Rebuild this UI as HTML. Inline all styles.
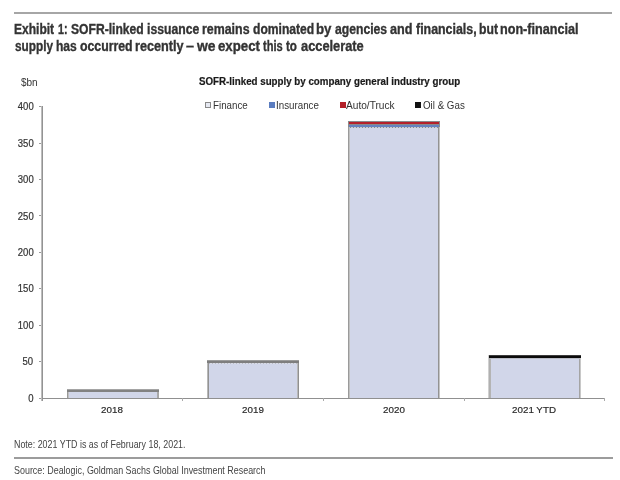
<!DOCTYPE html>
<html><head><meta charset="utf-8"><style>
*{margin:0;padding:0;box-sizing:border-box}
html,body{width:620px;height:480px;background:#fff;overflow:hidden;position:relative;font-family:"Liberation Sans",sans-serif;color:#333}
.a{position:absolute;white-space:nowrap;will-change:transform}
.sx{transform-origin:0 0;display:inline-block}
</style></head><body>
<div class="a" style="left:14.3px;top:11.8px;width:598.3px;height:2.1px;background:#a6a6a6"></div>
<div class="a tw" style="left:14.04px;top:21.2px;font-weight:bold;font-size:14px;line-height:16.8px;color:#333;-webkit-text-stroke:0.35px #333"><span class="sx" style="transform:scaleX(0.859)">Exhibit</span></div>
<div class="a tw" style="left:57.64px;top:21.2px;font-weight:bold;font-size:14px;line-height:16.8px;color:#333;-webkit-text-stroke:0.35px #333"><span class="sx" style="transform:scaleX(0.760)">1:</span></div>
<div class="a tw" style="left:71.30px;top:21.2px;font-weight:bold;font-size:14px;line-height:16.8px;color:#333;-webkit-text-stroke:0.35px #333"><span class="sx" style="transform:scaleX(0.865)">SOFR-linked</span></div>
<div class="a tw" style="left:146.73px;top:21.2px;font-weight:bold;font-size:14px;line-height:16.8px;color:#333;-webkit-text-stroke:0.35px #333"><span class="sx" style="transform:scaleX(0.871)">issuance</span></div>
<div class="a tw" style="left:202.12px;top:21.2px;font-weight:bold;font-size:14px;line-height:16.8px;color:#333;-webkit-text-stroke:0.35px #333"><span class="sx" style="transform:scaleX(0.885)">remains</span></div>
<div class="a tw" style="left:253.00px;top:21.2px;font-weight:bold;font-size:14px;line-height:16.8px;color:#333;-webkit-text-stroke:0.35px #333"><span class="sx" style="transform:scaleX(0.864)">dominated</span></div>
<div class="a tw" style="left:316.35px;top:21.2px;font-weight:bold;font-size:14px;line-height:16.8px;color:#333;-webkit-text-stroke:0.35px #333"><span class="sx" style="transform:scaleX(0.947)">by</span></div>
<div class="a tw" style="left:334.60px;top:21.2px;font-weight:bold;font-size:14px;line-height:16.8px;color:#333;-webkit-text-stroke:0.35px #333"><span class="sx" style="transform:scaleX(0.870)">agencies</span></div>
<div class="a tw" style="left:390.20px;top:21.2px;font-weight:bold;font-size:14px;line-height:16.8px;color:#333;-webkit-text-stroke:0.35px #333"><span class="sx" style="transform:scaleX(0.900)">and</span></div>
<div class="a tw" style="left:415.80px;top:21.2px;font-weight:bold;font-size:14px;line-height:16.8px;color:#333;-webkit-text-stroke:0.35px #333"><span class="sx" style="transform:scaleX(0.885)">financials,</span></div>
<div class="a tw" style="left:478.63px;top:21.2px;font-weight:bold;font-size:14px;line-height:16.8px;color:#333;-webkit-text-stroke:0.35px #333"><span class="sx" style="transform:scaleX(0.871)">but</span></div>
<div class="a tw" style="left:500.10px;top:21.2px;font-weight:bold;font-size:14px;line-height:16.8px;color:#333;-webkit-text-stroke:0.35px #333"><span class="sx" style="transform:scaleX(0.901)">non-financial</span></div>
<div class="a tw" style="left:14.50px;top:38.0px;font-weight:bold;font-size:14px;line-height:16.8px;color:#333;-webkit-text-stroke:0.35px #333"><span class="sx" style="transform:scaleX(0.842)">supply</span></div>
<div class="a tw" style="left:55.64px;top:38.0px;font-weight:bold;font-size:14px;line-height:16.8px;color:#333;-webkit-text-stroke:0.35px #333"><span class="sx" style="transform:scaleX(0.861)">has</span></div>
<div class="a tw" style="left:79.70px;top:38.0px;font-weight:bold;font-size:14px;line-height:16.8px;color:#333;-webkit-text-stroke:0.35px #333"><span class="sx" style="transform:scaleX(0.878)">occurred</span></div>
<div class="a tw" style="left:135.20px;top:38.0px;font-weight:bold;font-size:14px;line-height:16.8px;color:#333;-webkit-text-stroke:0.35px #333"><span class="sx" style="transform:scaleX(0.904)">recently</span></div>
<div class="a tw" style="left:186.00px;top:38.0px;font-weight:bold;font-size:14px;line-height:16.8px;color:#333;-webkit-text-stroke:0.35px #333"><span class="sx" style="transform:scaleX(1.025)">–</span></div>
<div class="a tw" style="left:197.00px;top:38.0px;font-weight:bold;font-size:14px;line-height:16.8px;color:#333;-webkit-text-stroke:0.35px #333"><span class="sx" style="transform:scaleX(0.989)">we</span></div>
<div class="a tw" style="left:218.40px;top:38.0px;font-weight:bold;font-size:14px;line-height:16.8px;color:#333;-webkit-text-stroke:0.35px #333"><span class="sx" style="transform:scaleX(0.945)">expect</span></div>
<div class="a tw" style="left:262.50px;top:38.0px;font-weight:bold;font-size:14px;line-height:16.8px;color:#333;-webkit-text-stroke:0.35px #333"><span class="sx" style="transform:scaleX(0.792)">this</span></div>
<div class="a tw" style="left:285.50px;top:38.0px;font-weight:bold;font-size:14px;line-height:16.8px;color:#333;-webkit-text-stroke:0.35px #333"><span class="sx" style="transform:scaleX(0.831)">to</span></div>
<div class="a tw" style="left:300.80px;top:38.0px;font-weight:bold;font-size:14px;line-height:16.8px;color:#333;-webkit-text-stroke:0.35px #333"><span class="sx" style="transform:scaleX(0.916)">accelerate</span></div>
<div class="a" style="left:20.5px;top:76.6px;font-size:10px;line-height:12px">$bn</div>
<div class="a" style="left:199px;top:75.7px;font-size:10px;font-weight:bold;line-height:12px;color:#1a1a1a;-webkit-text-stroke:0.2px #1a1a1a"><span class="sx" style="transform:scaleX(0.975)">SOFR-linked supply by company general industry group</span></div>
<div class="a" style="left:205.4px;top:102.1px;width:6.2px;height:6.4px;background:#e6e9f2;border:1px solid #888"></div>
<div class="a" style="left:213.0px;top:99.2px;font-size:10.5px;line-height:12px"><span class="sx" style="transform:scaleX(0.93)">Finance</span></div>
<div class="a" style="left:268.6px;top:102.1px;width:6.2px;height:6.4px;background:#5b7dc0;border:1px solid #5b7dc0"></div>
<div class="a" style="left:276.2px;top:99.2px;font-size:10.5px;line-height:12px"><span class="sx" style="transform:scaleX(0.93)">Insurance</span></div>
<div class="a" style="left:340.0px;top:102.1px;width:6.2px;height:6.4px;background:#b22028;border:1px solid #b22028"></div>
<div class="a" style="left:345.79999999999995px;top:99.2px;font-size:10.5px;line-height:12px"><span class="sx" style="transform:scaleX(0.965)">Auto/Truck</span></div>
<div class="a" style="left:415.40000000000003px;top:102.1px;width:6.2px;height:6.4px;background:#111;border:1px solid #111"></div>
<div class="a" style="left:422.6px;top:99.2px;font-size:10.5px;line-height:12px"><span class="sx" style="transform:scaleX(0.93)">Oil & Gas</span></div>
<div class="a" style="right:586.8px;top:392.70px;font-size:10px;line-height:12px;text-align:right;color:#333;-webkit-text-stroke:0.2px #333"><span class="sx" style="transform-origin:100% 0;transform:scaleX(0.95)">0</span></div>
<div class="a" style="left:39px;top:397.60px;width:3px;height:1.2px;background:#999"></div>
<div class="a" style="right:586.8px;top:356.27px;font-size:10px;line-height:12px;text-align:right;color:#333;-webkit-text-stroke:0.2px #333"><span class="sx" style="transform-origin:100% 0;transform:scaleX(0.95)">50</span></div>
<div class="a" style="left:39px;top:361.17px;width:3px;height:1.2px;background:#999"></div>
<div class="a" style="right:586.8px;top:319.85px;font-size:10px;line-height:12px;text-align:right;color:#333;-webkit-text-stroke:0.2px #333"><span class="sx" style="transform-origin:100% 0;transform:scaleX(0.95)">100</span></div>
<div class="a" style="left:39px;top:324.75px;width:3px;height:1.2px;background:#999"></div>
<div class="a" style="right:586.8px;top:283.42px;font-size:10px;line-height:12px;text-align:right;color:#333;-webkit-text-stroke:0.2px #333"><span class="sx" style="transform-origin:100% 0;transform:scaleX(0.95)">150</span></div>
<div class="a" style="left:39px;top:288.32px;width:3px;height:1.2px;background:#999"></div>
<div class="a" style="right:586.8px;top:247.00px;font-size:10px;line-height:12px;text-align:right;color:#333;-webkit-text-stroke:0.2px #333"><span class="sx" style="transform-origin:100% 0;transform:scaleX(0.95)">200</span></div>
<div class="a" style="left:39px;top:251.90px;width:3px;height:1.2px;background:#999"></div>
<div class="a" style="right:586.8px;top:210.57px;font-size:10px;line-height:12px;text-align:right;color:#333;-webkit-text-stroke:0.2px #333"><span class="sx" style="transform-origin:100% 0;transform:scaleX(0.95)">250</span></div>
<div class="a" style="left:39px;top:215.47px;width:3px;height:1.2px;background:#999"></div>
<div class="a" style="right:586.8px;top:174.15px;font-size:10px;line-height:12px;text-align:right;color:#333;-webkit-text-stroke:0.2px #333"><span class="sx" style="transform-origin:100% 0;transform:scaleX(0.95)">300</span></div>
<div class="a" style="left:39px;top:179.05px;width:3px;height:1.2px;background:#999"></div>
<div class="a" style="right:586.8px;top:137.72px;font-size:10px;line-height:12px;text-align:right;color:#333;-webkit-text-stroke:0.2px #333"><span class="sx" style="transform-origin:100% 0;transform:scaleX(0.95)">350</span></div>
<div class="a" style="left:39px;top:142.62px;width:3px;height:1.2px;background:#999"></div>
<div class="a" style="right:586.8px;top:101.30px;font-size:10px;line-height:12px;text-align:right;color:#333;-webkit-text-stroke:0.2px #333"><span class="sx" style="transform-origin:100% 0;transform:scaleX(0.95)">400</span></div>
<div class="a" style="left:39px;top:106.20px;width:3px;height:1.2px;background:#999"></div>
<div class="a" style="left:41px;top:106px;width:1px;height:295px;background:#bdbdbd"></div>
<div class="a" style="left:42px;top:106px;width:1px;height:295px;background:#939393"></div>
<div class="a" style="left:42px;top:397.6px;width:563px;height:1.4px;background:#909090"></div>
<div class="a" style="left:182px;top:398px;width:1px;height:3px;background:#aaa"></div>
<div class="a" style="left:323px;top:398px;width:1px;height:3px;background:#aaa"></div>
<div class="a" style="left:464px;top:398px;width:1px;height:3px;background:#aaa"></div>
<div class="a" style="left:604px;top:398px;width:1px;height:3px;background:#aaa"></div>
<div class="a" style="left:67px;top:389px;width:92px;height:9px;background:#d1d6e9"></div>
<div class="a" style="left:67px;top:389px;width:1px;height:9px;background:#9a9a9a"></div>
<div class="a" style="left:68px;top:389px;width:1px;height:9px;background:#c0c0c0"></div>
<div class="a" style="left:157px;top:389px;width:1px;height:9px;background:#aaaaaa"></div>
<div class="a" style="left:158px;top:389px;width:1px;height:9px;background:#a8a8a8"></div>
<div class="a" style="left:207px;top:360px;width:92px;height:38px;background:#d1d6e9"></div>
<div class="a" style="left:207px;top:360px;width:1px;height:38px;background:#b8b8b8"></div>
<div class="a" style="left:208px;top:360px;width:1px;height:38px;background:#939393"></div>
<div class="a" style="left:297px;top:360px;width:1px;height:38px;background:#b8b8b8"></div>
<div class="a" style="left:298px;top:360px;width:1px;height:38px;background:#909090"></div>
<div class="a" style="left:348px;top:121px;width:92px;height:277px;background:#d1d6e9"></div>
<div class="a" style="left:348px;top:121px;width:1px;height:277px;background:#9a9a9a"></div>
<div class="a" style="left:349px;top:121px;width:1px;height:277px;background:#c0c0c0"></div>
<div class="a" style="left:438px;top:121px;width:1px;height:277px;background:#939393"></div>
<div class="a" style="left:439px;top:121px;width:1px;height:277px;background:#c4c4c4"></div>
<div class="a" style="left:489px;top:355px;width:92px;height:43px;background:#d1d6e9"></div>
<div class="a" style="left:488px;top:355px;width:1px;height:43px;background:#d0d0d0"></div>
<div class="a" style="left:489px;top:355px;width:1px;height:43px;background:#b0b0b0"></div>
<div class="a" style="left:490px;top:355px;width:1px;height:43px;background:#b4b4b4"></div>
<div class="a" style="left:579px;top:355px;width:1px;height:43px;background:#a4a4a4"></div>
<div class="a" style="left:580px;top:355px;width:1px;height:43px;background:#c8c8c8"></div>
<div class="a" style="left:67px;top:389px;width:92px;height:1px;background:#a4a4a4"></div>
<div class="a" style="left:67px;top:390px;width:92px;height:2px;background:#828282"></div>
<div class="a" style="left:207px;top:360px;width:92px;height:1px;background:#9c9c9c"></div>
<div class="a" style="left:207px;top:361px;width:92px;height:2px;background:#7e7e7e"></div>
<div class="a" style="left:348px;top:121px;width:92px;height:6px;background:#8a8a8a"></div>
<div class="a" style="left:349px;top:122px;width:90px;height:2px;background:#b5202a"></div>
<div class="a" style="left:349px;top:125px;width:90px;height:2px;background:#6482c0"></div>
<div class="a" style="left:209px;top:363px;width:88px;height:1px;background:repeating-linear-gradient(90deg,#b8bac4 0 1.5px,#d8dbe6 1.5px 3px)"></div>
<div class="a" style="left:350px;top:127px;width:88px;height:1px;background:repeating-linear-gradient(90deg,#8a8a8a 0 1.5px,#c8cbd6 1.5px 3px)"></div>
<div class="a" style="left:489px;top:355px;width:92px;height:1px;background:#3c3c3c"></div>
<div class="a" style="left:489px;top:356px;width:92px;height:2px;background:#0b0b0b"></div>
<div class="a" style="left:490px;top:358px;width:90px;height:1px;background:#b9bcc6"></div>
<div class="a" style="left:62.099999999999994px;width:100px;top:404.3px;font-size:9.8px;line-height:12px;text-align:center;color:#2a2a2a;-webkit-text-stroke:0.2px #2a2a2a">2018</div>
<div class="a" style="left:203px;width:100px;top:404.3px;font-size:9.8px;line-height:12px;text-align:center;color:#2a2a2a;-webkit-text-stroke:0.2px #2a2a2a">2019</div>
<div class="a" style="left:343.5px;width:100px;top:404.3px;font-size:9.8px;line-height:12px;text-align:center;color:#2a2a2a;-webkit-text-stroke:0.2px #2a2a2a">2020</div>
<div class="a" style="left:484.20000000000005px;width:100px;top:404.3px;font-size:9.8px;line-height:12px;text-align:center;color:#2a2a2a;-webkit-text-stroke:0.2px #2a2a2a">2021 YTD</div>
<div class="a" style="left:14px;top:437.8px;font-size:10.5px;line-height:12px;color:#444"><span class="sx" style="transform:scaleX(0.845)">Note: 2021 YTD is as of February 18, 2021.</span></div>
<div class="a" style="left:14px;top:457.4px;width:598.5px;height:1.5px;background:#9c9c9c"></div>
<div class="a" style="left:14px;top:464px;font-size:10.5px;line-height:12px;color:#444"><span class="sx" style="transform:scaleX(0.85)">Source: Dealogic, Goldman Sachs Global Investment Research</span></div>
</body></html>
